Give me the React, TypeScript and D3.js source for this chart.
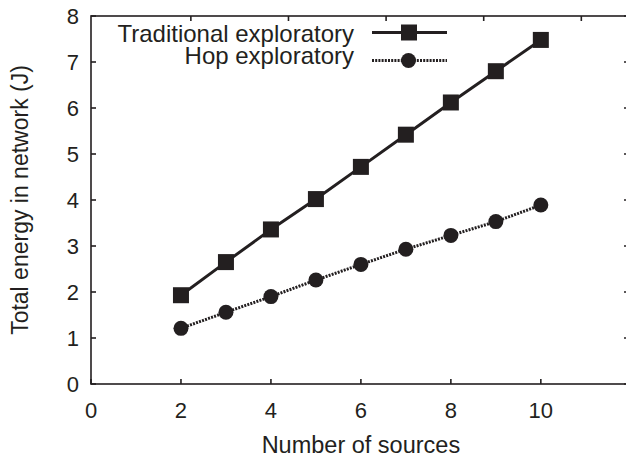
import React from "react";
import * as d3 from "d3";

const sources = [2, 3, 4, 5, 6, 7, 8, 9, 10];
const traditional = [1.93, 2.65, 3.36, 4.02, 4.72, 5.42, 6.12, 6.8, 7.48];
const hop = [1.21, 1.56, 1.9, 2.26, 2.6, 2.93, 3.23, 3.53, 3.89];
const xTicks = [0, 2, 4, 6, 8, 10];
const topTicks = [2.22, 4.39, 6.56, 8.73, 10.9];
const yTicks = [0, 1, 2, 3, 4, 5, 6, 7, 8];

const W = 626, H = 459;
const XMAX = 11.96;
const x = d3.scaleLinear().domain([0, XMAX]).range([91, 629]);
const y = d3.scaleLinear().domain([0, 8]).range([384, 16]);
const font = "'Liberation Sans', Arial, Helvetica, sans-serif";
const ink = "#231f20";

export default function App() {
  const line = d3.line<number>().x((_, i) => x(sources[i])).y((d) => y(d));
  const x0 = x(0), x1 = x(XMAX), y0 = y(0), y1 = y(8);
  return (
    <svg width={W} height={H} style={{ position: "absolute", left: 0, top: 0 }}>
      <rect width={W} height={H} fill="#fff" />
      <g stroke={ink} strokeWidth={1.6} fill="none">
        <rect x={x0} y={y1} width={x1 - x0} height={y0 - y1} />
        {xTicks.map((t) => (
          <line key={"xt" + t} x1={x(t)} x2={x(t)} y1={y0} y2={y0 - 5} />
        ))}
        {topTicks.map((t) => (
          <line key={"tt" + t} x1={x(t)} x2={x(t)} y1={y1} y2={y1 + 5} />
        ))}
        {yTicks.map((t) => (
          <g key={"yt" + t}>
            <line x1={x0} x2={x0 + 5} y1={y(t)} y2={y(t)} />
            <line x1={x1} x2={x1 - 5} y1={y(t)} y2={y(t)} />
          </g>
        ))}
      </g>
      <g fontFamily={font} fill={ink}>
        {xTicks.map((t) => (
          <text key={"xl" + t} x={x(t)} y={y0 + 34} textAnchor="middle" fontSize={22}>{t}</text>
        ))}
        {yTicks.map((t) => (
          <text key={"yl" + t} x={79} y={y(t) + 8} textAnchor="end" fontSize={22}>{t}</text>
        ))}
        <text x={x(6)} y={453} textAnchor="middle" fontSize={23.5}>Number of sources</text>
        <text transform={`translate(28,${(y0 + y1) / 2}) rotate(-90)`} textAnchor="middle" fontSize={23}>
          Total energy in network (J)
        </text>
      </g>
      <path d={line(traditional) || ""} fill="none" stroke={ink} strokeWidth={3} />
      <path d={line(hop) || ""} fill="none" stroke={ink} strokeWidth={3} strokeDasharray="2,1.2" />
      {traditional.map((v, i) => (
        <rect key={"s" + i} x={x(sources[i]) - 8} y={y(v) - 8} width={16} height={16} fill={ink} />
      ))}
      {hop.map((v, i) => (
        <circle key={"c" + i} cx={x(sources[i])} cy={y(v)} r={7.5} fill={ink} />
      ))}
      <g fontFamily={font} fontSize={24} fill={ink}>
        <text x={354} y={42} textAnchor="end">Traditional exploratory</text>
        <text x={354} y={64} textAnchor="end">Hop exploratory</text>
      </g>
      <line x1={372} x2={447} y1={32.5} y2={32.5} stroke={ink} strokeWidth={3} />
      <rect x={401} y={24.5} width={16} height={16} fill={ink} />
      <line x1={372} x2={447} y1={60.5} y2={60.5} stroke={ink} strokeWidth={3} strokeDasharray="2,1.2" />
      <circle cx={408.5} cy={60.5} r={7.5} fill={ink} />
    </svg>
  );
}
